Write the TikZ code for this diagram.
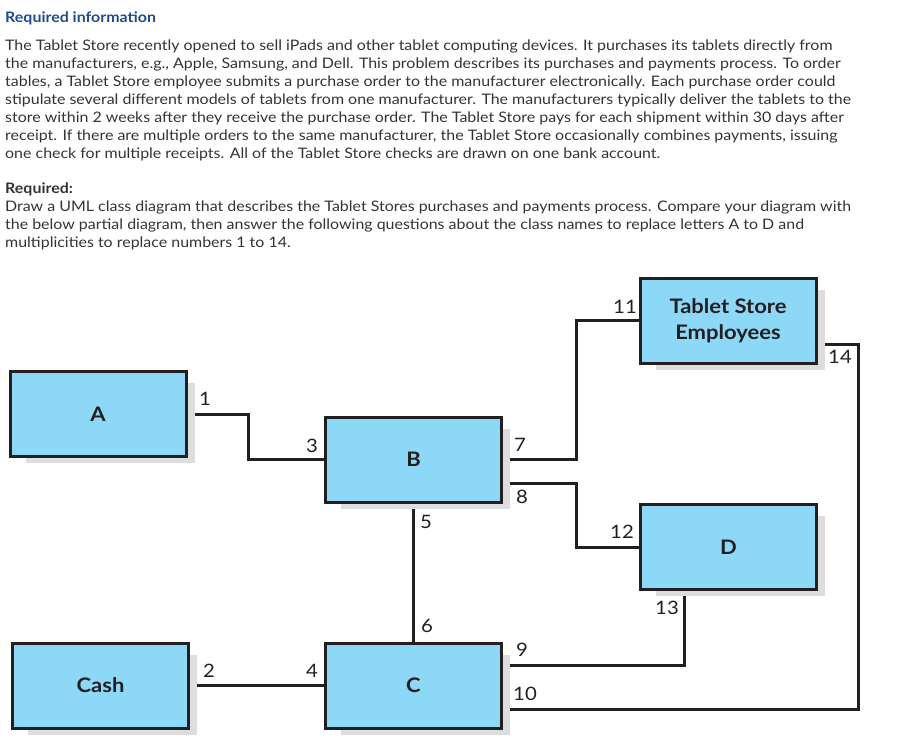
\documentclass[tikz,border=0pt]{standalone}
\usepackage{fontspec}
\setmainfont{Lato}[FakeStretch=1.1]
\usetikzlibrary{positioning}
\definecolor{boxblue}{RGB}{141,215,247}
\definecolor{boxline}{RGB}{35,31,32}
\definecolor{boxshade}{RGB}{220,221,222}
\definecolor{headblue}{RGB}{28,76,140}
\definecolor{bodygray}{RGB}{51,51,51}
\pgfdeclarelayer{background}
\pgfsetlayers{background,main}

\begin{document}
\begin{tikzpicture}[x=1pt,y=-1pt]
            \tikzset{classbox/.style={draw=boxline, fill=boxblue, line width=3pt,
            minimum width=176pt, minimum height=85pt, inner sep=0pt, align=center,
            text=boxline, font=\fontsize{20}{26}\selectfont\bfseries},
            mult/.style={inner sep=0pt, text=boxline, font=\fontsize{18.5}{19}\selectfont},
            assoc/.style={draw=boxline, line width=3pt},
            bodytext/.style={anchor=base west, inner sep=0pt, text=bodygray, font=\fontsize{14.5}{18}\selectfont}}

            \useasboundingbox (0,0) rectangle (899,744);

            % question text
            \node[bodytext, text=headblue, font=\fontsize{14.5}{18}\selectfont\bfseries] (head) at (5,22.7) {Required information};
            \foreach \txt [count=\i from 0] in {
                {The Tablet Store recently opened to sell iPads and other tablet computing devices. It purchases its tablets directly from},
                {the manufacturers, e.g., Apple, Samsung, and Dell. This problem describes its purchases and payments process. To order},
                {tables, a Tablet Store employee submits a purchase order to the manufacturer electronically. Each purchase order could},
                {stipulate several different models of tablets from one manufacturer. The manufacturers typically deliver the tablets to the},
                {store within 2 weeks after they receive the purchase order. The Tablet Store pays for each shipment within 30 days after},
                {receipt. If there are multiple orders to the same manufacturer, the Tablet Store occasionally combines payments, issuing},
                {one check for multiple receipts. All of the Tablet Store checks are drawn on one bank account.}}
                \node[bodytext] (p\i) at (5,{50.7+18*\i}) {\txt};
            \node[bodytext, font=\fontsize{14.5}{18}\selectfont\bfseries] (req) at (5,193) {Required:};
            \foreach \txt [count=\i from 0] in {
                {Draw a UML class diagram that describes the Tablet Stores purchases and payments process. Compare your diagram with},
                {the below partial diagram, then answer the following questions about the class names to replace letters A to D and},
                {multiplicities to replace numbers 1 to 14.}}
                \node[bodytext] (q\i) at (5,{211.5+18*\i}) {\txt};

            % classes
            \node[classbox] (a) at (98,414) {A};
            \node[classbox] (b) at (413.5,459.5) {B};
            \node[classbox] (tse) at (728,320.5) {Tablet Store\\Employees};
            \node[classbox] (d) at (728.5,547) {D};
            \node[classbox] (cash) at (100.5,685.5) {Cash};
            \node[classbox] (c) at (413.5,685.5) {C};

            \def\boxshade#1{
                \fill[boxshade] ([xshift=17pt,yshift=-13pt]#1.north west) rectangle ([xshift=7pt,yshift=-5pt]#1.south east);
            }

            \begin{pgfonlayer}{background}
                \draw[assoc] (a.east) -- ++(60.5,0) |- (b.west);
                \draw[assoc] (b.east) -- ++(73,0) |- (tse.west);
                \draw[assoc] ([yshift=-23.5pt]b.east) -- ++(73,0) |- (d.west);
                \draw[assoc] (b.south) -- (c.north);
                \draw[assoc] (cash.east) -- (c.west);
                \draw[assoc] ([yshift=20.5pt]c.east) -| ([xshift=-44.5pt]d.south);
                \draw[assoc] ([yshift=-23.5pt]c.east) -- ++(355,0) |- ([yshift=-23.5pt]tse.east);
                \foreach \n in {a,b,tse,d,cash,c} {\boxshade{\n}}
            \end{pgfonlayer}

            % multiplicities
            \node[mult] (m1) at (205,399) {1};
            \node[mult] (m2) at (209,671) {2};
            \node[mult] (m3) at (312,446) {3};
            \node[mult] (m4) at (312,671) {4};
            \node[mult] (m5) at (426,522) {5};
            \node[mult] (m6) at (427,626) {6};
            \node[mult] (m7) at (520,445) {7};
            \node[mult] (m8) at (522,497) {8};
            \node[mult] (m9) at (522,650) {9};
            \node[mult] (m10) at (525,694) {10};
            \node[mult] (m11) at (625,307) {11};
            \node[mult] (m12) at (622,532) {12};
            \node[mult] (m13) at (667,608) {13};
            \node[mult] (m14) at (840,357) {14};
\end{tikzpicture}
\end{document}
